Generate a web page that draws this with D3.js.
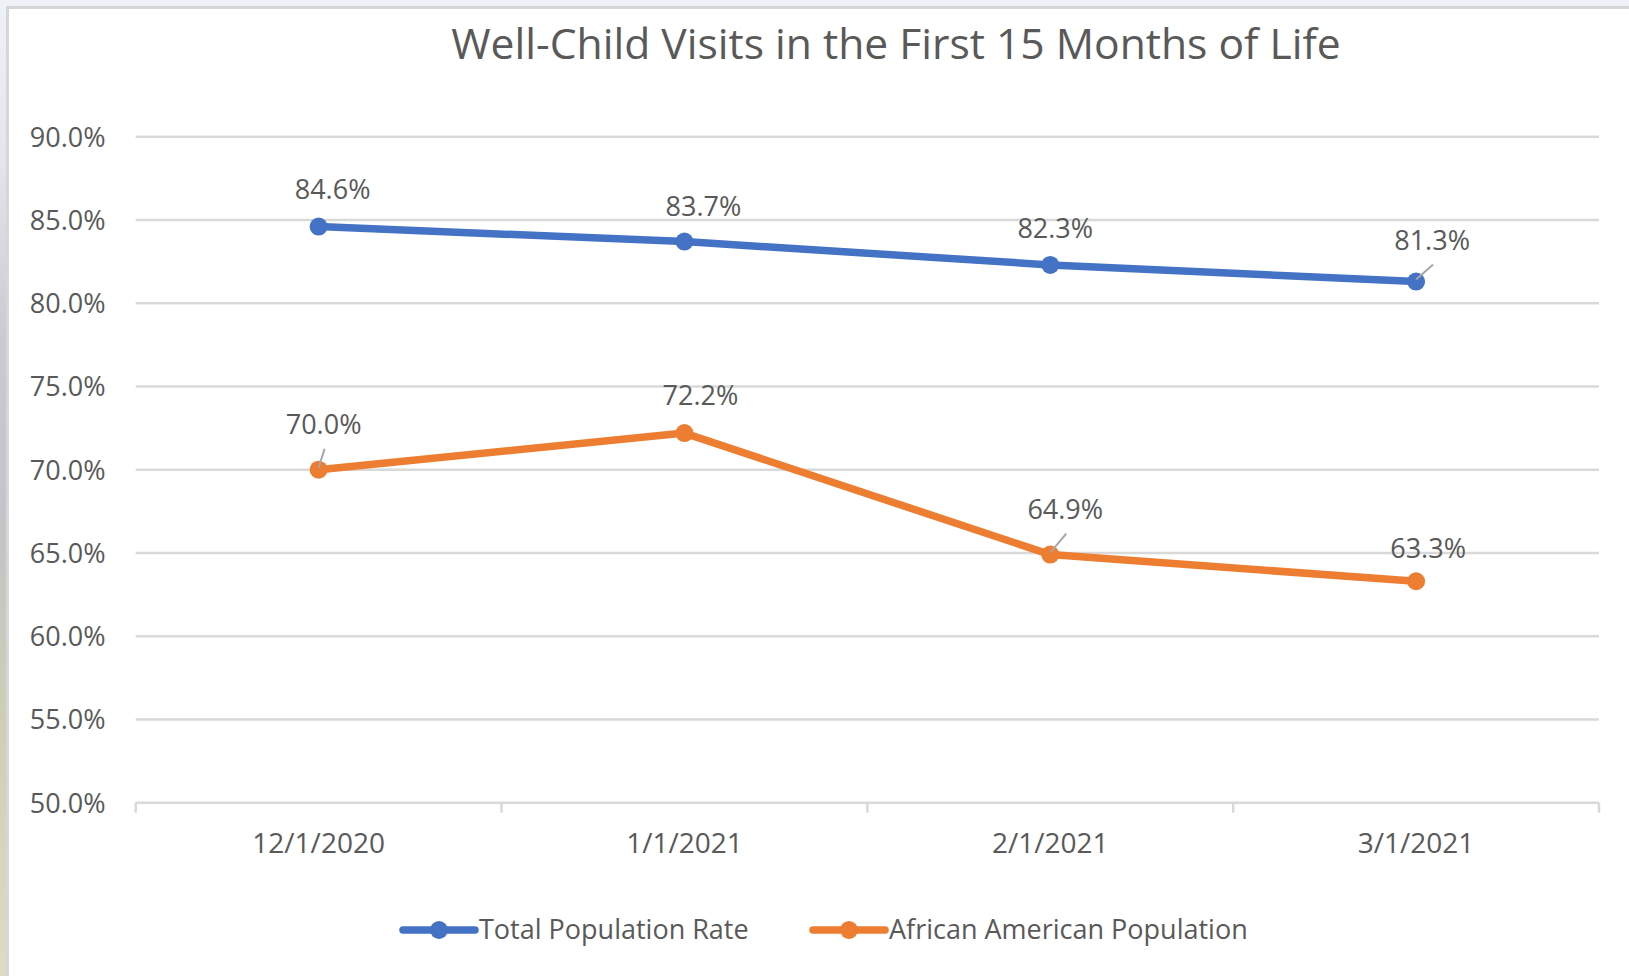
<!DOCTYPE html>
<html>
<head>
<meta charset="utf-8">
<script src="https://cdn.jsdelivr.net/npm/d3@7/dist/d3.min.js"></script>
<style>
  html, body { margin: 0; padding: 0; background: #fff; }
  svg { display: block; }
  text { font-family: "Open Sans", "Noto Sans", sans-serif; fill: #595959; }
</style>
</head>
<body>
<svg id="chart" width="1629" height="976"></svg>
<script>
// ---- data ----
const title = "Well-Child Visits in the First 15 Months of Life";
const categories = ["12/1/2020", "1/1/2021", "2/1/2021", "3/1/2021"];
const seriesNames = ["Total Population Rate", "African American Population"];
const totalPopulation = [0.846, 0.837, 0.823, 0.813];
const africanAmerican = [0.700, 0.722, 0.649, 0.633];
const yTicks = [0.50, 0.55, 0.60, 0.65, 0.70, 0.75, 0.80, 0.85, 0.90];

// ---- layout (label placement relative to point, px) ----
const labelOffsetsTotal = [[14, -28], [19, -26], [5, -27], [16, -32]];
const labelOffsetsAA = [[5, -36], [16, -28], [15, -36], [12, -23]];
const leaderTotal = [false, false, false, true];
const leaderAA = [true, false, true, false];

const colors = ["#4472C4", "#ED7D31"];
const W = 1629, H = 976;
const svg = d3.select("#chart");

// frame / background
const defs = svg.append("defs");
const grad = defs.append("linearGradient").attr("id", "bgstrip").attr("x1", 0).attr("y1", 0).attr("x2", 0).attr("y2", 1);
grad.append("stop").attr("offset", "0%").attr("stop-color", "#eef1f5");
grad.append("stop").attr("offset", "16%").attr("stop-color", "#e4e6ec");
grad.append("stop").attr("offset", "35%").attr("stop-color", "#c9c9d3");
grad.append("stop").attr("offset", "55%").attr("stop-color", "#c3c4c6");
grad.append("stop").attr("offset", "75%").attr("stop-color", "#cfcfb6");
grad.append("stop").attr("offset", "100%").attr("stop-color", "#dcdcc4");
svg.append("rect").attr("x", 0).attr("y", 0).attr("width", W).attr("height", 7).attr("fill", "#eef1f5");
svg.append("rect").attr("x", 0).attr("y", 0).attr("width", 7).attr("height", H).attr("fill", "url(#bgstrip)");
svg.append("rect").attr("x", 6).attr("y", 6).attr("width", W - 6).attr("height", 3).attr("fill", "#d6d6d6");
svg.append("rect").attr("x", 6).attr("y", 6).attr("width", 3).attr("height", H - 6).attr("fill", "#d6d6d6");

// scales
const x = d3.scaleBand().domain(categories).range([135.7, 1599]).paddingInner(0).paddingOuter(0);
const y = d3.scaleLinear().domain([0.5, 0.9]).range([802.7, 136.7]);
const pct = d3.format(".1%");

// title
svg.append("text").attr("x", 896).attr("y", 59).attr("text-anchor", "middle")
  .style("font-size", "42.6px").text(title);

// gridlines
svg.append("g").selectAll("line").data(yTicks).join("line")
  .attr("x1", x.range()[0]).attr("x2", x.range()[1])
  .attr("y1", d => y(d)).attr("y2", d => y(d))
  .attr("stroke", "#d9d9d9").attr("stroke-width", 2.5);

// y axis labels
const yAxis = d3.axisLeft(y).tickValues(yTicks).tickFormat(pct).tickSize(0).tickPadding(0);
const gy = svg.append("g").attr("transform", "translate(105.5,0)").call(yAxis);
gy.select(".domain").remove();
gy.selectAll("text").style("font-size", "27px").attr("fill", "#595959").attr("font-family", null).attr("dy", "0.35em");

// x axis
const bounds = categories.map(c => x(c)).concat([x.range()[1]]);
svg.append("g").selectAll("line").data(bounds).join("line")
  .attr("x1", d => d).attr("x2", d => d)
  .attr("y1", y(0.5)).attr("y2", y(0.5) + 10)
  .attr("stroke", "#d9d9d9").attr("stroke-width", 2.5);
const xAxis = d3.axisBottom(x).tickSize(0).tickPadding(0);
const gx = svg.append("g").attr("transform", `translate(0,${y(0.5)})`).call(xAxis);
gx.select(".domain").remove();
gx.selectAll("text").style("font-size", "28px").attr("fill", "#595959").attr("font-family", null)
  .attr("y", 0).attr("dy", 0).attr("transform", "translate(0,50)");

// series
const series = [
  { name: seriesNames[0], values: totalPopulation, color: colors[0], offs: labelOffsetsTotal, leader: leaderTotal },
  { name: seriesNames[1], values: africanAmerican, color: colors[1], offs: labelOffsetsAA, leader: leaderAA }
];
const line = d3.line().x((d, i) => x(categories[i]) + x.bandwidth() / 2).y(d => y(d));

series.forEach(s => {
  const g = svg.append("g");
  g.append("path").datum(s.values).attr("d", line)
    .attr("fill", "none").attr("stroke", s.color).attr("stroke-width", 7.5)
    .attr("stroke-linejoin", "round").attr("stroke-linecap", "round");
  g.selectAll("circle").data(s.values).join("circle")
    .attr("cx", (d, i) => x(categories[i]) + x.bandwidth() / 2)
    .attr("cy", d => y(d)).attr("r", 9).attr("fill", s.color);
  // leader lines
  s.values.forEach((v, i) => {
    if (!s.leader[i]) return;
    const px = x(categories[i]) + x.bandwidth() / 2, py = y(v);
    const lx = px + s.offs[i][0], ly = py + s.offs[i][1];
    g.append("line").attr("x1", px).attr("y1", py - 2)
      .attr("x2", lx + 1).attr("y2", ly + 15)
      .attr("stroke", "#a6a6a6").attr("stroke-width", 2);
  });
  g.selectAll("text").data(s.values).join("text")
    .attr("x", (d, i) => x(categories[i]) + x.bandwidth() / 2 + s.offs[i][0])
    .attr("y", (d, i) => y(d) + s.offs[i][1])
    .attr("text-anchor", "middle").style("font-size", "27px").text(d => pct(d));
});

// legend
const legend = svg.append("g").attr("transform", "translate(0,930)");
const legendX = [403, 813];
series.forEach((s, i) => {
  const lg = legend.append("g").attr("transform", `translate(${legendX[i]},0)`);
  lg.append("line").attr("x1", 0).attr("x2", 72).attr("y1", 0).attr("y2", 0)
    .attr("stroke", s.color).attr("stroke-width", 7.5).attr("stroke-linecap", "round");
  lg.append("circle").attr("cx", 36).attr("cy", 0).attr("r", 9).attr("fill", s.color);
  lg.append("text").attr("x", 76).attr("y", 0).attr("dy", "0.35em")
    .style("font-size", "27px").text(s.name);
});
</script>
</body>
</html>
